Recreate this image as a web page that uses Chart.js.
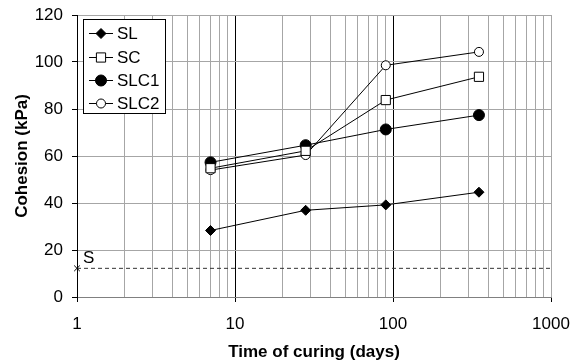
<!DOCTYPE html>
<html>
<head>
<meta charset="utf-8">
<script src="https://cdn.jsdelivr.net/npm/chart.js@4.4.1/dist/chart.umd.min.js"></script>
<style>
  html, body { margin: 0; padding: 0; background: #fff; }
  canvas { display: block; }
</style>
</head>
<body>
<canvas id="chart" width="572" height="362"></canvas>
<script>
// データ ---------------
const days = [7, 28, 90, 350];
const SL = [28.3, 36.9, 39.2, 44.6];
const SC = [54.8, 62.2, 83.8, 93.7];
const SLC1 = [57.3, 64.6, 71.3, 77.4];
const SLC2 = [54.0, 60.4, 98.6, 104.3];
const sDays = [1, 1000];
const sValue = 12.2;
const sLabel = "S";
const xTicksMajor = [1, 10, 100, 1000];
const yTicks = [0, 20, 40, 60, 80, 100, 120];
const xTitle = "Time of curing (days)";
const yTitle = "Cohesion (kPa)";

const FONT = "'Liberation Sans', Arial, sans-serif";

const toPts = (xs, ys) => xs.map((x, i) => ({ x: x, y: ys[i] }));

const series = [
  { label: "SL", data: SL, style: "rectRot", radius: 5, fill: "#000" },
  { label: "SC", data: SC, style: "rect", radius: 6.5, fill: "#fff" },
  { label: "SLC1", data: SLC1, style: "circle", radius: 5.5, fill: "#000" },
  { label: "SLC2", data: SLC2, style: "circle", radius: 4.5, fill: "#fff" }
];

const datasets = series.map(s => ({
  label: s.label,
  data: toPts(days, s.data),
  borderColor: "#000",
  borderWidth: 1,
  pointStyle: s.style,
  pointRadius: s.radius,
  pointBackgroundColor: s.fill,
  pointBorderColor: "#000",
  pointBorderWidth: 1,
  tension: 0
}));

datasets.push({
  label: sLabel,
  data: sDays.map(x => ({ x: x, y: sValue })),
  borderColor: "#333",
  borderWidth: 1,
  borderDash: [4, 3],
  pointStyle: "crossRot",
  pointRadius: [4, 0],
  pointBorderColor: "#000",
  pointBorderWidth: 1,
  clip: false,
  order: 10
});

// 凡例・ラベル描画
function drawMarker(ctx, style, x, y, r, fill) {
  ctx.save();
  ctx.fillStyle = fill;
  ctx.strokeStyle = "#000";
  ctx.lineWidth = 1;
  ctx.beginPath();
  if (style === "circle") {
    ctx.arc(x, y, r, 0, Math.PI * 2);
  } else if (style === "rect") {
    const h = r * Math.SQRT1_2;
    ctx.rect(x - h, y - h, h * 2, h * 2);
  } else if (style === "rectRot") {
    ctx.moveTo(x, y - r); ctx.lineTo(x + r, y); ctx.lineTo(x, y + r); ctx.lineTo(x - r, y); ctx.closePath();
  }
  ctx.fill();
  ctx.stroke();
  ctx.restore();
}

const extras = {
  id: "extras",
  afterDraw(chart) {
    const ctx = chart.ctx;
    const xs = chart.scales.x, ys = chart.scales.y;
    ctx.save();
    // legend box
    ctx.fillStyle = "#fff";
    ctx.fillRect(83.5, 19.5, 82, 94);
    ctx.strokeStyle = "#000";
    ctx.lineWidth = 1;
    ctx.strokeRect(83.5, 19.5, 82, 94);
    const rows = [33, 57, 80, 103];
    series.forEach((s, i) => {
      const y = rows[i];
      ctx.beginPath();
      ctx.moveTo(89, y + 0.5); ctx.lineTo(113, y + 0.5);
      ctx.strokeStyle = "#000"; ctx.stroke();
      drawMarker(ctx, s.style, 101, y + 0.5, s.radius, s.fill);
      ctx.fillStyle = "#000";
      ctx.font = "17px " + FONT;
      ctx.textAlign = "left";
      ctx.textBaseline = "middle";
      ctx.fillText(s.label, 117, y + 1);
    });
    // S label
    ctx.font = "17px " + FONT;
    ctx.textAlign = "left";
    ctx.textBaseline = "middle";
    ctx.fillText(sLabel, xs.getPixelForValue(sDays[0]) + 6, ys.getPixelForValue(sValue) - 10);
    // axis titles
    ctx.font = "bold 17px " + FONT;
    ctx.textAlign = "center";
    ctx.fillText(xTitle, (xs.left + xs.right) / 2, 352);
    ctx.translate(22, (ys.top + ys.bottom) / 2);
    ctx.rotate(-Math.PI / 2);
    ctx.fillText(yTitle, 0, 0);
    ctx.restore();
  }
};

const isMajor = v => xTicksMajor.includes(v);

function noOverhang(scale) {
  scale.paddingLeft = 0;
  scale.paddingRight = 0;
  scale.paddingTop = 0;
  scale.paddingBottom = 0;
}

new Chart(document.getElementById("chart").getContext("2d"), {
  type: "line",
  data: { datasets: datasets },
  options: {
    responsive: false,
    animation: false,
    layout: { padding: { left: 0, top: 15, right: 21, bottom: 0 } },
    plugins: { legend: { display: false }, tooltip: { enabled: false } },
    scales: {
      x: {
        type: "logarithmic",
        min: 1,
        max: 1000,
        afterBuildTicks(scale) {
          const t = [];
          for (let d = 1; d < 1000; d *= 10) {
            for (let k = 1; k < 10; k++) t.push({ value: d * k });
          }
          t.push({ value: 1000 });
          scale.ticks = t;
        },
        afterFit(scale) { scale.height = 65; noOverhang(scale); },
        ticks: {
          autoSkip: false,
          maxRotation: 0,
          padding: 12,
          color: "#000",
          font: { family: FONT, size: 17 },
          callback: v => (isMajor(v) ? String(v) : "")
        },
        grid: {
          color: ctx => (ctx.tick && (ctx.tick.value === 10 || ctx.tick.value === 100) ? "#000" : "#a6a6a6"),
          tickColor: ctx => (ctx.tick && isMajor(ctx.tick.value) ? "#000" : "rgba(0,0,0,0)"),
          tickLength: 5,
          lineWidth: 1
        },
        border: { color: "#808080" }
      },
      y: {
        min: 0,
        max: 120,
        afterBuildTicks(scale) { scale.ticks = yTicks.map(v => ({ value: v })); },
        afterFit(scale) { scale.width = 77; noOverhang(scale); },
        ticks: {
          padding: 9,
          color: "#000",
          font: { family: FONT, size: 17 }
        },
        grid: { color: "#a6a6a6", tickColor: "#000", tickLength: 5, lineWidth: 1 },
        border: { color: "#000" }
      }
    }
  },
  plugins: [extras]
});
</script>
</body>
</html>
